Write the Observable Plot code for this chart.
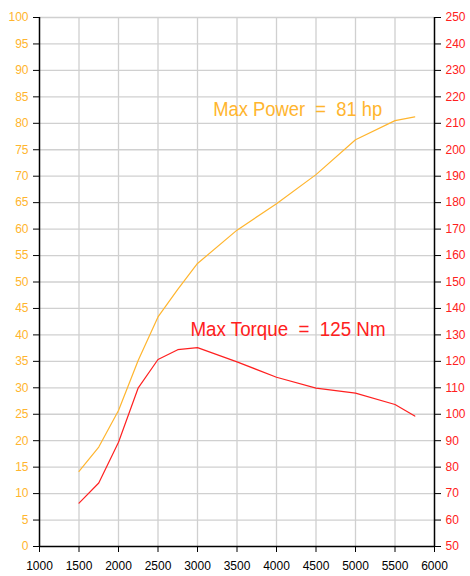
<!DOCTYPE html>
<html>
<head>
<meta charset="utf-8">
<script src="https://cdn.jsdelivr.net/npm/d3@7"></script>
<script src="https://cdn.jsdelivr.net/npm/@observablehq/plot@0.6"></script>
<style>
  html, body { margin: 0; padding: 0; background: #fff; }
</style>
</head>
<body>
<div id="chart"></div>
<script>
const rpm = [1500, 1750, 2000, 2250, 2500, 2750, 3000, 3500, 4000, 4500, 5000, 5500, 5750];
const powerHp = [14.2, 18.8, 25.7, 35.2, 43.4, 48.6, 53.5, 59.8, 64.8, 70.3, 76.9, 80.5, 81.2];
const torqueNm = [66.4, 74.0, 89.4, 110.0, 120.7, 124.4, 125.2, 119.8, 114.0, 109.9, 108.0, 103.7, 99.3];
const xTicks = [1000, 1500, 2000, 2500, 3000, 3500, 4000, 4500, 5000, 5500, 6000];
const powerTicks = [0, 5, 10, 15, 20, 25, 30, 35, 40, 45, 50, 55, 60, 65, 70, 75, 80, 85, 90, 95, 100];
const torqueTicks = [50, 60, 70, 80, 90, 100, 110, 120, 130, 140, 150, 160, 170, 180, 190, 200, 210, 220, 230, 240, 250];
const powerLabel = "Max Power  =  81 hp";
const torqueLabel = "Max Torque  =  125 Nm";

const ORANGE = "#ffb52e";
const RED = "#ff2020";

// torque shares the power axis: left 0..100 <-> right 50..250
const toLeft = t => (t - 50) / 2;

const power = rpm.map((r, i) => ({rpm: r, v: powerHp[i]}));
const torque = rpm.map((r, i) => ({rpm: r, v: toLeft(torqueNm[i]), nm: torqueNm[i]}));
const maxP = power.reduce((a, b) => b.v > a.v ? b : a);
const maxT = torque.reduce((a, b) => b.v > a.v ? b : a);

const chart = Plot.plot({
  width: 470,
  height: 576,
  marginLeft: 39,
  marginRight: 36,
  marginTop: 17,
  marginBottom: 30,
  style: {fontFamily: "Liberation Sans, Arial, sans-serif", fontSize: "12px", background: "#fff", overflow: "visible"},
  x: {domain: [1000, 6000]},
  y: {domain: [0, 100]},
  marks: [
    Plot.gridX(xTicks.slice(1, -1), {stroke: "#d0d0d0", strokeOpacity: 1, strokeWidth: 1.3}),
    Plot.gridY(powerTicks.slice(1), {stroke: "#d0d0d0", strokeOpacity: 1, strokeWidth: 1.3}),
    Plot.axisX(xTicks, {tickSize: 6, tickPadding: 9, stroke: "#000", fill: "#000", label: null, tickFormat: d => String(d)}),
    Plot.axisY(powerTicks, {anchor: "left", tickSize: 6, tickPadding: 5, stroke: "#000", fill: ORANGE, label: null}),
    Plot.axisY(torqueTicks.map(toLeft), {anchor: "right", tickSize: 6, tickPadding: 5, stroke: "#000", fill: RED, label: null, tickFormat: d => String(d * 2 + 50)}),
    Plot.ruleX([1000, 6000], {stroke: "#000", strokeWidth: 1.5}),
    Plot.ruleY([0], {stroke: "#000", strokeWidth: 1.5}),
    Plot.line(power, {x: "rpm", y: "v", stroke: ORANGE, strokeWidth: 1.2}),
    Plot.line(torque, {x: "rpm", y: "v", stroke: RED, strokeWidth: 1.2}),
    Plot.text([maxP], {x: "rpm", y: "v", text: () => powerLabel, textAnchor: "end", dx: -32.5, dy: -7.4, fill: ORANGE, fontSize: 20.5}),
    Plot.text([maxT], {x: "rpm", y: "v", text: () => torqueLabel, textAnchor: "start", dx: -7, dy: -18, fill: RED, fontSize: 20.5})
  ]
});
// condense the annotation lettering like the original's narrow font
const labelWidths = new Map([[powerLabel, 169], [torqueLabel, 195]]);
d3.select(chart).selectAll("text").each(function () {
  const w = labelWidths.get(this.textContent);
  if (w) {
    this.setAttribute("textLength", w);
    this.setAttribute("lengthAdjust", "spacingAndGlyphs");
  }
});
document.getElementById("chart").appendChild(chart);
</script>
</body>
</html>
